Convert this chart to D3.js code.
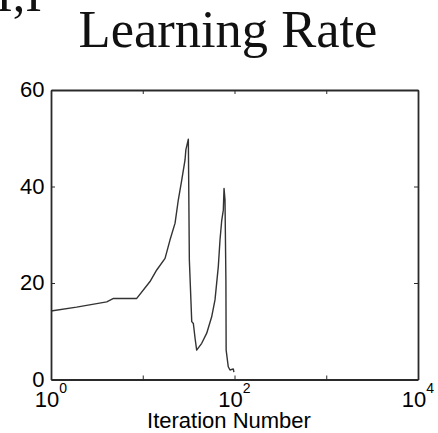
<!DOCTYPE html>
<html>
<head>
<meta charset="utf-8">
<script src="https://cdn.jsdelivr.net/npm/d3@7"></script>
<style>
  html, body { margin: 0; padding: 0; background: #fff; }
  svg { display: block; }
</style>
</head>
<body>
<svg id="chart" width="438" height="433"></svg>
<script>
// Learning rate per iteration (log-scaled iteration axis)
const iterations = [1, 1.9, 4.05, 4.8, 8.6, 12, 14.2, 17.5, 19.8, 22.5, 24.4, 26.6, 28.9, 29.5, 31.4,
  32.2, 34.2, 35.6, 37.2, 38.7, 43.9, 49.8, 56.4, 61.3, 66.6, 69.5, 72.6, 75.5, 76.9,
  78.8, 80.6, 81.1, 85.5, 89.3, 97, 98.5];
const rates = [14.2, 15.0, 16.1, 16.8, 16.8, 20.3, 22.7, 25.1, 28.9, 32.4, 37.2, 41.3, 45.5, 47.6, 49.8,
  24.8, 12.0, 11.6, 8.5, 6.1, 7.5, 9.6, 13.0, 16.5, 23.4, 28.9, 33.0, 35.1, 39.6,
  37.2, 20.6, 6.1, 2.65, 1.97, 2.2, 1.55];

const xDomain = [1, 10000];
const yDomain = [0, 60];
const xTicks = [1, 10, 100, 1000, 10000];
const xTickExponents = ["0", "", "2", "", "4"];
const yTicks = [0, 20, 40, 60];

const titleText = "Learning Rate";
const xLabel = "Iteration Number";
const cornerText = "I,I";

const svg = d3.select("#chart");
const plotLeft = 51, plotRight = 418, plotTop = 90, plotBottom = 379.5;

const x = d3.scaleLog().domain(xDomain).range([plotLeft, plotRight]);
const y = d3.scaleLinear().domain(yDomain).range([plotBottom, plotTop]);

const ink = "#2a2a2a";
const sans = "'Liberation Sans', Arial, Helvetica, sans-serif";
const serif = "'Liberation Serif', 'Times New Roman', serif";

// Partial text at the top-left corner
svg.append("text")
  .attr("x", -4).attr("y", 10.5)
  .attr("font-family", serif)
  .attr("font-size", 50)
  .attr("fill", "#111")
  .text(cornerText);

// Title
svg.append("text")
  .attr("x", 228).attr("y", 46.5)
  .attr("text-anchor", "middle")
  .attr("font-family", serif)
  .attr("font-size", 52.5)
  .attr("fill", "#111")
  .text(titleText);

// Data line
const line = d3.line()
  .x((d, i) => x(iterations[i]))
  .y(d => y(d));

svg.append("path")
  .datum(rates)
  .attr("d", line)
  .attr("fill", "none")
  .attr("stroke", "#333")
  .attr("stroke-width", 1.4)
  .attr("stroke-linejoin", "round");

// Axes: bottom/left with labels, top/right as frame, all ticks pointing inward
const tickLen = 4;
const axisBottom = d3.axisBottom(x).tickValues(xTicks).tickSizeInner(-tickLen).tickSizeOuter(0).tickFormat("");
const axisTop = d3.axisTop(x).tickValues(xTicks).tickSizeInner(-tickLen).tickSizeOuter(0).tickFormat("");
const axisLeft = d3.axisLeft(y).tickValues(yTicks).tickSizeInner(-tickLen).tickSizeOuter(0).tickFormat("");
const axisRight = d3.axisRight(y).tickValues(yTicks).tickSizeInner(-tickLen).tickSizeOuter(0).tickFormat("");

const gB = svg.append("g").attr("transform", `translate(0,${plotBottom})`).call(axisBottom);
const gT = svg.append("g").attr("transform", `translate(0,${plotTop})`).call(axisTop);
const gL = svg.append("g").attr("transform", `translate(${plotLeft},0)`).call(axisLeft);
const gR = svg.append("g").attr("transform", `translate(${plotRight},0)`).call(axisRight);

[gB, gT, gL, gR].forEach(g => {
  g.select(".domain").attr("stroke", ink).attr("stroke-width", 1.8);
  g.selectAll(".tick line").attr("stroke", ink).attr("stroke-width", 1);
});

// Y tick labels
svg.append("g").selectAll("text")
  .data(yTicks)
  .join("text")
  .attr("x", 44.5)
  .attr("y", d => y(d))
  .attr("dy", "0.33em")
  .attr("text-anchor", "end")
  .attr("font-family", sans)
  .attr("font-size", 22)
  .attr("fill", "#000")
  .text(d => d);

// X tick labels as powers of ten
const xl = svg.append("g").selectAll("text")
  .data(xTicks.map((v, i) => ({ v, e: xTickExponents[i] })).filter(d => d.e !== ""))
  .join("text")
  .attr("x", d => x(d.v))
  .attr("y", 407)
  .attr("text-anchor", "middle")
  .attr("font-family", sans)
  .attr("font-size", 22)
  .attr("fill", "#000");
xl.append("tspan").text("10");
xl.append("tspan").attr("font-size", 14).attr("dy", -14).text(d => d.e);

// X axis label
svg.append("text")
  .attr("x", 229).attr("y", 428)
  .attr("text-anchor", "middle")
  .attr("font-family", sans)
  .attr("font-size", 22)
  .attr("fill", "#000")
  .text(xLabel);
</script>
</body>
</html>
